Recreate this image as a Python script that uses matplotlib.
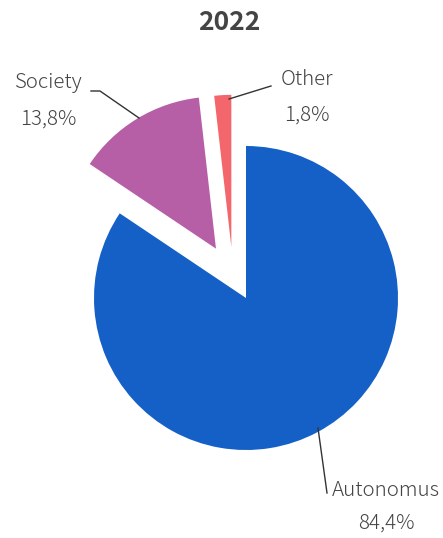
import numpy as np
import matplotlib
matplotlib.use("Agg")
import matplotlib.pyplot as plt

plt.rcParams['font.family'] = ['Noto Sans CJK JP', 'DejaVu Sans']

categories = ["Autonomus", "Society", "Other"]
shares = [84.4, 13.8, 1.8]
share_labels = ["84,4%", "13,8%", "1,8%"]
colors = ["#1560C6", "#B65FA6", "#F2666C"]
title = "2022"

W, H = 443, 538
fig = plt.figure(figsize=(W / 100, H / 100), dpi=100)
ax = fig.add_axes([0, 0, 1, 1])

# pixel helpers: pie centre at (246, 298) px, radius 152 px
R_PX, CX, CY = 152.0, 246.0, 298.0
def px(x, y):
    return ((x - CX) / R_PX, (CY - y) / R_PX)

wedges, _ = ax.pie(shares, colors=colors, startangle=90, counterclock=False,
                   explode=[0, 0.38, 0.35], radius=1.0,
                   wedgeprops=dict(linewidth=0))

# shift the small slice slightly left so it sits beside the exploded Society slice
ang = np.deg2rad(106)
wedges[2].set_center((0.35 * np.cos(ang), 0.35 * np.sin(ang)))

ax.set_xlim(-CX / R_PX, (W - CX) / R_PX)
ax.set_ylim(-(H - CY) / R_PX, CY / R_PX)
ax.set_aspect('equal')
ax.axis('off')

txt = "#444444"
lc = "#333333"
fs = 14.8
fw = 'light'

# title
tx, ty = px(229.5, 22)
ax.text(tx, ty, title, ha='center', va='center', fontsize=19,
        fontweight='bold', color=txt)

# Society
x, y = px(48, 82)
ax.text(x, y, categories[1], ha='center', va='center', fontsize=fs, color=txt, fontweight=fw)
x, y = px(48, 119)
ax.text(x, y, share_labels[1], ha='center', va='center', fontsize=fs, color=txt, fontweight=fw)
pts = [px(91, 91), px(100, 91), px(139, 118)]
ax.plot([p[0] for p in pts], [p[1] for p in pts], color=lc, lw=1)

# Other
x, y = px(307, 79)
ax.text(x, y, categories[2], ha='center', va='center', fontsize=fs, color=txt, fontweight=fw)
x, y = px(307, 115)
ax.text(x, y, share_labels[2], ha='center', va='center', fontsize=fs, color=txt, fontweight=fw)
pts = [px(271, 86), px(229, 99)]
ax.plot([p[0] for p in pts], [p[1] for p in pts], color=lc, lw=1)

# Autonomus
x, y = px(386, 490)
ax.text(x, y, categories[0], ha='center', va='center', fontsize=fs, color=txt, fontweight=fw)
x, y = px(386, 523)
ax.text(x, y, share_labels[0], ha='center', va='center', fontsize=fs, color=txt, fontweight=fw)
pts = [px(318, 428), px(327, 493)]
ax.plot([p[0] for p in pts], [p[1] for p in pts], color=lc, lw=1)

fig.savefig("out.png", dpi=100, facecolor="white")
